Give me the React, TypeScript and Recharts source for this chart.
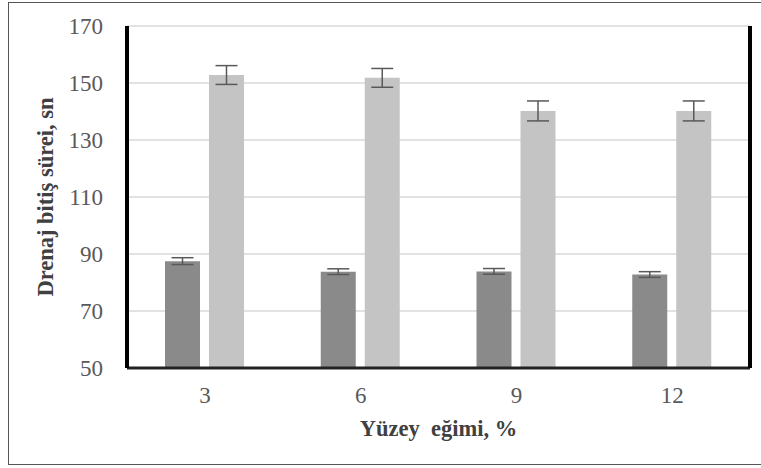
import { BarChart, Bar, XAxis, YAxis, CartesianGrid, ErrorBar } from "recharts";

const slopes = ["3", "6", "9", "12"];
const seriesA = [87.5, 83.8, 83.9, 82.8];
const seriesAErr = [1.2, 1.0, 1.0, 1.0];
const seriesB = [152.8, 151.8, 140.2, 140.2];
const seriesBErr = [3.3, 3.3, 3.5, 3.5];
const yTicks = [50, 70, 90, 110, 130, 150, 170];

const data = slopes.map((s, i) => ({
  slope: s,
  a: seriesA[i],
  aErr: seriesAErr[i],
  b: seriesB[i],
  bErr: seriesBErr[i],
}));

const serif = "'Liberation Serif', 'Times New Roman', serif";

const App = () => {
  return (
    <div style={{ position: "absolute", left: 0, top: 0, width: 761, height: 468, background: "#fff" }}>
      <div
        style={{
          position: "absolute",
          left: 8,
          top: 2,
          width: 760,
          height: 463,
          border: "1px solid #555",
          boxSizing: "border-box",
        }}
      />
      <BarChart
        width={761}
        height={468}
        data={data}
        margin={{ top: 26, right: 0, bottom: 70, left: 0 }}
        barSize={35}
        barGap={9}
        style={{ position: "absolute", left: 0, top: 0 }}
      >
        <CartesianGrid vertical={false} stroke="#d9d9d9" strokeWidth={1.5} yAxisId="left" />
        <XAxis
          xAxisId="top"
          orientation="top"
          dataKey="slope"
          height={0}
          tick={false}
          tickLine={false}
          axisLine={{ stroke: "#000", strokeWidth: 4 }}
        />
        <XAxis
          dataKey="slope"
          height={30}
          tickLine={false}
          tickSize={0}
          tickMargin={19}
          axisLine={{ stroke: "#222", strokeWidth: 3 }}
          tick={{ fill: "#595959", fontSize: 23, fontFamily: serif }}
          label={{
            value: "Yüzey\u00a0\u00a0eğimi, %",
            position: "insideBottom",
            offset: -38,
            style: { fill: "#404040", fontSize: 22.5, fontWeight: "bold", fontFamily: serif },
          }}
        />
        <YAxis
          yAxisId="left"
          width={127}
          domain={[50, 170]}
          ticks={yTicks}
          interval={0}
          tickLine={false}
          tickSize={0}
          tickMargin={24}
          axisLine={{ stroke: "#000", strokeWidth: 4 }}
          tick={{ fill: "#595959", fontSize: 23, fontFamily: serif }}
          label={{
            value: "Drenaj bitiş sürei, sn",
            angle: -90,
            position: "insideLeft",
            offset: 45,
            style: { textAnchor: "middle", fill: "#404040", fontSize: 22.5, fontWeight: "bold", fontFamily: serif },
          }}
        />
        <YAxis
          yAxisId="right"
          orientation="right"
          width={11}
          domain={[50, 170]}
          ticks={yTicks}
          tick={false}
          tickLine={false}
          axisLine={{ stroke: "#000", strokeWidth: 4 }}
        />
        <Bar dataKey="a" yAxisId="left" fill="#8a8a8a" isAnimationActive={false}>
          <ErrorBar dataKey="aErr" width={11} stroke="#595959" strokeWidth={1.5} />
        </Bar>
        <Bar dataKey="b" yAxisId="left" fill="#c4c4c4" isAnimationActive={false}>
          <ErrorBar dataKey="bErr" width={11} stroke="#595959" strokeWidth={1.5} />
        </Bar>
      </BarChart>
    </div>
  );
};

export default App;
